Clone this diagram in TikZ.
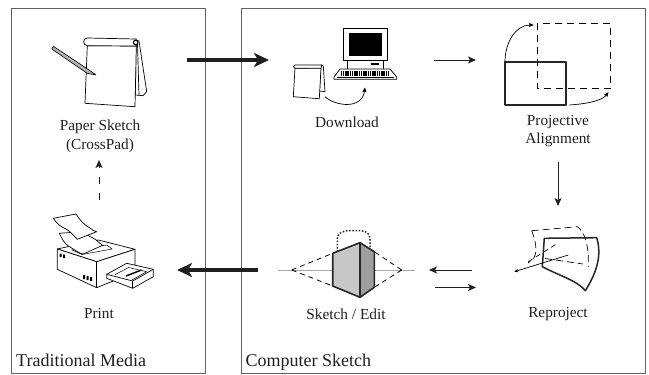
\documentclass[tikz,border=0pt]{standalone}
\usepackage{fontspec}
\setmainfont{Liberation Serif}
\usetikzlibrary{arrows.meta}
\tikzset{
  panel/.style={draw=black!62,line width=1pt},
  lbl/.style={font=\fontsize{15.3}{18}\selectfont,text=black!88,align=center,inner sep=0pt,anchor=center},
  ttl/.style={font=\fontsize{18}{20}\selectfont,text=black!88,inner sep=0pt,anchor=base west},
  bigarrow/.style={line width=3.4pt,black!88,-{Stealth[length=15pt,width=14pt,inset=4pt]}},
  smallarrow/.style={line width=.95pt,black!88,-{Stealth[length=8pt,width=7pt,inset=2pt]}},
  thinarrow/.style={line width=.7pt,-{Stealth[length=5pt,width=4pt,inset=1pt]}},
  ink/.style={line width=.7pt,draw=black,fill=white,line join=round},
  thick outline/.style={line width=1.6pt,draw=black!85,line join=round},
  dsh/.style={line width=.8pt,dash pattern=on 7pt off 5pt},
}
\begin{document}
\begin{tikzpicture}[x=1pt,y=-1pt]
\useasboundingbox (0,0) rectangle (649,375);
\fill[white] (0,0) rectangle (649,375);
% panels
\draw[panel] (11,8) rectangle (205,373);
\draw[panel] (241,8) rectangle (645.6,373);
\node[ttl] (tm) at (16,366) {Traditional Media};
\node[ttl] (cs) at (245.5,366) {Computer Sketch};

% big notepad
\draw[ink] (135.5,95) -- (143,95.7) -- (146.7,91.7) -- (139,41) -- (136,40) -- cycle;
\draw[ink] (139,95.5) -- (137.5,44);
\draw[ink] (87.3,45.7) -- (136.3,46) -- (135,106.7) -- (85,103.3) -- cycle;
\draw[ink] (87,38) .. controls (82.5,38) and (82.5,45.5) .. (87.3,45.7) -- (136.3,46) -- (136.3,39) -- (87,38);
\draw[line width=1.1pt,fill=white] (135.7,42.5) circle[radius=2.3];
% pencil
\draw[line width=.6pt,fill=black!30,line join=round] (96,75) -- (87,73.2) -- (51.8,49) -- (53.4,46.3) -- (89,70) -- cycle;

\node[lbl] (ps) at (100,127) {Paper Sketch};
\node[lbl] (cp) at (100,146) {(CrossPad)};

% printer
\draw[ink] (57.3,249) -- (96.7,261.7) -- (135,249.3) -- (98.3,240) -- cycle;
\draw[ink] (57.3,249) -- (57.3,269.3) -- (96.7,287.7) -- (135,272) -- (135,249.3) -- (96.7,261.7) -- cycle;
\draw[ink] (96.7,261.7) -- (96.7,287.7);
\draw[line width=.5pt] (72,250) -- (107,245) -- (112,249) -- (82,254.5) -- cycle;
\fill[black] (59.5,253.5) rectangle (61.5,257) (63,254.5) rectangle (65,258);
\fill[black] (83,275) rectangle (85,279) (86.5,276) rectangle (88.5,280) (90.2,277) rectangle (92.2,281);
% tray
\draw[ink] (106.7,274.3) -- (126.7,263.3) -- (153.3,269.3) -- (153.3,276.7) -- (132.7,288.3) -- (106.7,278.3) -- cycle;
\draw[ink] (106.7,274.3) -- (132.7,281) -- (153.3,269.3);
\draw[ink] (132.7,281) -- (132.7,288.3);
\draw[line width=.5pt] (115,274.7) -- (128.5,267.5) -- (146.5,271.7) -- (132,280);
\draw[line width=1.4pt] (126,276) -- (141.5,270);
% paper
\draw[ink] (59.3,233.3) .. controls (62,238) and (63,243) .. (70,247) .. controls (75,250) and (80,254) .. (83.3,254) -- (102.7,245.3) .. controls (99,243) and (97,240) .. (93,238) .. controls (88,237) and (85,230) .. (77.3,232) -- cycle;
\draw[ink] (53.3,218.3) -- (76,214) .. controls (80,220) and (84,225) .. (90,228) .. controls (93,230) and (95,232) .. (96.7,231.7) -- (77.3,239.3) .. controls (74,236) and (70,231) .. (66,229) .. controls (61,227) and (57,224) .. (53.3,218.3) -- cycle;

\node[lbl] (pr) at (99,314) {Print};

% small notepad
\draw[ink] (319.5,91) -- (325,91.7) -- (323.3,66) -- (321,65) -- cycle;
\draw[ink] (295,68.3) -- (321,68) -- (319.3,98.7) -- (293.3,96.7) -- cycle;
\draw[line width=.7pt,fill=white,line join=round] (295,65) .. controls (293,65.5) and (293,68) .. (295,68.3) -- (321,68.3) -- (321.7,65) -- cycle;

% computer
\draw[line width=.8pt,fill=white] (343.3,28.3) rectangle (387.7,60);
\fill[black] (349,33.3) rectangle (382,56);
\draw[line width=.8pt,fill=white] (347.7,60) rectangle (383.3,69);
\fill[black] (370.7,62.7) rectangle (379,65);
\draw[line width=.8pt,fill=white,line join=round] (340,69) -- (390,69) -- (396.7,77) -- (396.7,79.3) -- (334,79.3) -- (334,77) -- cycle;
\draw[line width=4.6pt,dash pattern=on 1.1pt off .7pt] (341,73.2) -- (389,73.2);
\draw[line width=.6pt] (337,77) -- (394,77);
\coordinate (dla) at (325,96.7);
\coordinate (dlb) at (365,87.3);
\draw[thinarrow] (dla) .. controls (335,106) and (362,110) .. (dlb);
\node[lbl] (dl) at (347,122) {Download};

% projective alignment
\draw[dsh] (537.3,23.3) rectangle (610,88.7);
\draw[thick outline,line width=1.7pt] (505,62) rectangle (566.3,105.3);
\coordinate (pa1) at (505,62);
\coordinate (pa2) at (533.8,25);
\coordinate (pb1) at (569.3,105);
\coordinate (pb2) at (608.5,92);
\draw[thinarrow] (pa1) .. controls (505,42) and (516,25) .. (pa2);
\draw[thinarrow] (pb1) .. controls (585,104) and (602,101) .. (pb2);
\node[lbl] (pj) at (558,122) {Projective};
\node[lbl] (al) at (558,140) {Alignment};

% reproject
\draw[line width=.7pt,dash pattern=on 7pt off 4pt] (531.7,230.7) -- (577.3,226.7) .. controls (585,232) and (589,245) .. (588.3,267);
\draw[line width=.7pt,dash pattern=on 7pt off 4pt] (531.7,230.7) .. controls (535,240) and (538,250) .. (534,258) -- (528,263);
\draw[line width=.7pt,dash pattern=on 5pt off 4pt] (528.3,261.7) -- (558,243);
\draw[line width=.7pt,dash pattern=on 7pt off 4pt] (545,258.5) -- (583,264);
\draw[line width=1.5pt,draw=black!85,line join=round] (544.3,238.3) -- (596.7,237.7) .. controls (602,255) and (597,272) .. (585.3,290.7) .. controls (578,281) and (560,276) .. (542.3,266.7) -- cycle;
\coordinate (rl) at (514.3,271.7);
\coordinate (rr) at (568.3,255);
\draw[line width=.7pt,-{Stealth[length=4pt,width=3.4pt]}] (rr) -- (rl);
\node[lbl] (rp) at (558,314) {Reproject};

% sketch / edit
\coordinate (glA) at (277.7,270);
\coordinate (glB) at (415,270);
\draw[line width=1pt,black!35] (glA) -- (glB);
\coordinate (vl) at (291.7,270);
\coordinate (vr) at (401.7,270);
\draw[line width=.8pt,dash pattern=on 5pt off 4pt] (vl) -- (332.7,253.3) (vl) -- (332.7,286) (vr) -- (374.3,251.7) (vr) -- (374.3,287.3);
\draw[line width=1.5pt,dash pattern=on 1.5pt off 1.7pt,black!85] (337.3,251.7) -- (337.3,240) .. controls (337.3,233) and (342,230.7) .. (350,230.7) -- (360,230.7) .. controls (367,230.7) and (370,234) .. (370,240) -- (370,247);
\draw[thick outline,fill=black!22] (332.7,253.3) -- (360,242.7) -- (360,297.3) -- (332.7,286) -- cycle;
\draw[thick outline,fill=black!38] (360,242.7) -- (374.3,251.7) -- (374.3,287.3) -- (360,297.3) -- cycle;
\node[lbl] (se) at (346,314) {Sketch / Edit};

% flow arrows
\coordinate (a1s) at (187.3,60);
\coordinate (a1e) at (269,60);
\draw[bigarrow] (a1s) -- (a1e);
\coordinate (a2s) at (258,270);
\coordinate (a2e) at (177,270);
\draw[bigarrow] (a2s) -- (a2e);
\coordinate (a3s) at (434.3,60);
\coordinate (a3e) at (476,60);
\draw[smallarrow] (a3s) -- (a3e);
\coordinate (a4s) at (558,162);
\coordinate (a4e) at (558,206);
\draw[smallarrow] (a4s) -- (a4e);
\coordinate (a5s) at (472,270);
\coordinate (a5e) at (429,270);
\draw[smallarrow] (a5s) -- (a5e);
\coordinate (a6s) at (435,287.5);
\coordinate (a6e) at (476,287.5);
\draw[smallarrow] (a6s) -- (a6e);
\coordinate (a7s) at (99,200);
\coordinate (a7e) at (99,160);
\draw[line width=.95pt,black!88,dash pattern=on 7pt off 9pt,-{Stealth[length=8pt,width=7pt,inset=2pt]}] (a7s) -- (a7e);
\end{tikzpicture}
\end{document}
